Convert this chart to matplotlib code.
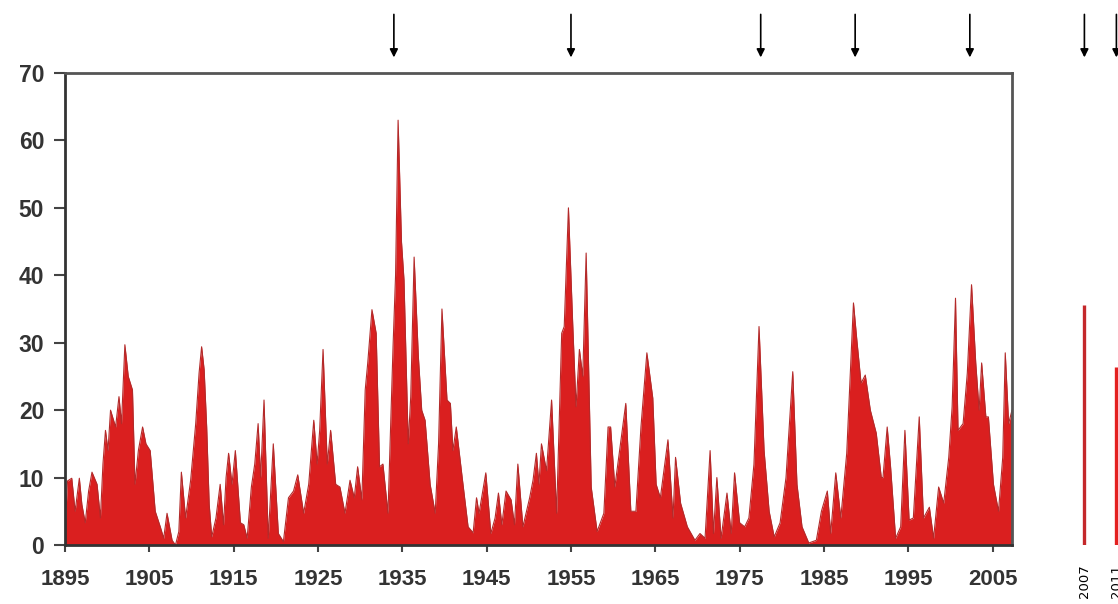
import matplotlib.pyplot as plt

# percent area at the peaks and dips
years = [1895.0, 1895.3, 1895.8, 1896.2, 1896.7, 1897.0, 1897.4, 1897.8, 1898.2, 1898.8,
         1899.2, 1899.5, 1899.8, 1900.1, 1900.4, 1901.0, 1901.4, 1901.7, 1902.1, 1902.5,
         1903.0, 1903.3, 1903.7, 1904.2, 1904.6, 1905.1, 1905.7, 1906.3, 1906.7, 1907.1,
         1907.7, 1908.1, 1908.5, 1908.8, 1909.3, 1909.9, 1910.5, 1910.9, 1911.2, 1911.5,
         1911.8, 1912.1, 1912.4, 1912.9, 1913.4, 1913.8, 1914.1, 1914.4, 1914.8, 1915.2,
         1915.8, 1916.2, 1916.6, 1917.1, 1917.5, 1917.9, 1918.2, 1918.6, 1919.1, 1919.7,
         1920.3, 1920.9, 1921.5, 1922.1, 1922.6, 1923.3, 1923.9, 1924.5, 1924.9, 1925.2,
         1925.6, 1926.1, 1926.5, 1927.1, 1927.6, 1928.2, 1928.8, 1929.3, 1929.7, 1930.2,
         1930.6, 1930.9, 1931.4, 1931.9, 1932.3, 1932.7, 1933.3, 1933.9, 1934.2, 1934.5,
         1934.9, 1935.2, 1935.7, 1936.0, 1936.4, 1936.9, 1937.3, 1937.7, 1938.3, 1938.9,
         1939.3, 1939.7, 1940.3, 1940.7, 1941.0, 1941.4, 1942.1, 1942.8, 1943.4, 1943.8,
         1944.1, 1944.9, 1945.5, 1946.0, 1946.4, 1946.8, 1947.3, 1947.9, 1948.3, 1948.7,
         1949.3, 1950.1, 1950.5, 1950.9, 1951.2, 1951.5, 1952.1, 1952.7, 1953.3, 1953.9,
         1954.2, 1954.7, 1955.2, 1955.6, 1956.0, 1956.4, 1956.8, 1957.4, 1958.1, 1958.9,
         1959.4, 1959.7, 1960.2, 1960.9, 1961.5, 1962.1, 1962.7, 1963.3, 1964.0, 1964.7,
         1965.1, 1965.6, 1966.5, 1967.1, 1967.4, 1968.0, 1968.8, 1969.7, 1970.3, 1970.9,
         1971.5, 1971.9, 1972.3, 1972.8, 1973.5, 1974.0, 1974.4, 1975.0, 1975.6, 1976.1,
         1976.7, 1977.3, 1977.9, 1978.5, 1979.1, 1979.8, 1980.5, 1981.3, 1981.8, 1982.4,
         1983.2, 1984.1, 1984.7, 1985.4, 1985.8, 1986.4, 1987.0, 1987.7, 1988.5, 1988.9,
         1989.4, 1989.9, 1990.5, 1991.2, 1991.8, 1992.0, 1992.5, 1992.9, 1993.5, 1994.1,
         1994.6, 1995.1, 1995.6, 1996.3, 1996.8, 1997.5, 1998.0, 1998.6, 1999.2, 1999.8,
         2000.2, 2000.6, 2000.9, 2001.5, 2002.0, 2002.5, 2003.0, 2003.4, 2003.7, 2004.2,
         2004.5, 2005.1, 2005.7, 2006.2, 2006.5, 2006.9, 2007.3]
pct = [2, 9.5, 9.9, 5, 9.9, 6, 3.3, 8, 10.8, 9,
       4, 12, 17, 14, 20, 17.5, 22, 18, 29.7, 25,
       23, 9, 14, 17.5, 15, 14, 5, 2.7, 1, 4.7,
       0.7, 0, 2, 10.8, 4, 9.6, 18, 25.5, 29.4, 26,
       17.5, 6, 1.2, 4, 9, 3, 10, 13.6, 9, 14,
       3.3, 3, 1, 8.6, 12, 18, 10, 21.5, 1, 15,
       1.7, 0.5, 7, 8, 10.4, 4.7, 9, 18.5, 12, 17,
       29, 12, 17, 9, 8.6, 4.7, 9.6, 7, 11.6, 6.7,
       23, 27, 34.9, 31.4, 11.6, 12, 4.7, 29.4, 40, 63,
       45, 39.3, 15, 22, 42.7, 28, 20, 18.5, 9, 4.7,
       15, 35, 21.5, 21, 14, 17.5, 10, 2.7, 1.8, 7,
       4.7, 10.7, 1.7, 4, 7.7, 3, 8, 6.7, 3, 12,
       2.7, 7, 9.6, 13.6, 9, 15, 11, 21.5, 4.7, 31.4,
       32.4, 50, 33, 20.5, 29, 25, 43.3, 8.6, 2, 4.7,
       17.5, 17.5, 8.6, 15.3, 21, 5, 5, 17.5, 28.5, 21.8,
       9, 7, 15.6, 4, 13, 6.2, 2.7, 0.7, 1.7, 1,
       14, 1.7, 10, 1, 7.7, 1.7, 10.7, 3.3, 2.7, 4,
       12, 32.4, 14, 5, 1.2, 3.3, 10, 25.7, 9, 2.7,
       0.3, 0.7, 5, 8, 1.7, 10.7, 4, 13.6, 35.9, 30.4,
       24, 25.2, 20, 16.6, 10, 10, 17.5, 11.6, 1, 2.7,
       17, 3.7, 4, 19, 4, 5.6, 1, 8.6, 6.2, 13,
       20.5, 36.6, 17, 18, 25.5, 38.6, 27, 20, 27, 19,
       19, 9, 5, 13, 28.5, 18, 20]

arrow_years = [1934, 1955, 1977.5, 1988.7, 2002.3]
xtick_years = list(range(1895, 2006, 10))
yticks = list(range(0, 71, 10))

recent_labels = ['2007', '2011']
recent_pct = [35.6, 26.4]
recent_colors = ['#c4282b', '#e3201f']

plt.rcParams['font.family'] = ['Liberation Sans', 'DejaVu Sans']

fig = plt.figure(figsize=(11.18, 6.04), dpi=100)
ax = fig.add_axes([65 / 1118, 1 - 545 / 604, 947 / 1118, 472 / 604])

ax.fill_between(years, 0, pct, color='#da1f1f', linewidth=0)
ax.plot(years, pct, color='#b32a2a', linewidth=0.8)

ax.set_xlim(1895, 2007.3)
ax.set_ylim(0, 70)
ax.set_xticks(xtick_years)
ax.set_yticks(yticks)
ax.tick_params(axis='y', direction='out', length=8, width=1.5, color='#444444', pad=7,
               labelsize=16.5, labelcolor='#333333')
ax.tick_params(axis='x', direction='out', length=5, width=1.5, color='#444444', pad=12,
               labelsize=16, labelcolor='#333333')
for lab in ax.get_xticklabels() + ax.get_yticklabels():
    lab.set_fontweight('bold')

for side in ['left', 'bottom']:
    ax.spines[side].set_color('#333333')
    ax.spines[side].set_linewidth(2)
for side in ['top', 'right']:
    ax.spines[side].set_color('#555555')
    ax.spines[side].set_linewidth(2)

for yr in arrow_years:
    ax.annotate('', xy=(yr, 71.9), xytext=(yr, 79.1), annotation_clip=False,
                arrowprops=dict(arrowstyle='-|>', color='black', lw=1.2, mutation_scale=12))

# the two recent years, drawn off to the right
ax2 = fig.add_axes([1070 / 1118, 1 - 545 / 604, 48 / 1118, 472 / 604])
ax2.set_xlim(-0.45, 1.05)
ax2.set_ylim(0, 70)
ax2.vlines(range(len(recent_pct)), 0, recent_pct, colors=recent_colors, linewidth=2.4)
ax2.set_xticks(range(len(recent_labels)))
ax2.set_xticklabels(recent_labels, rotation=90, fontsize=9.5, family=['DejaVu Sans'])
ax2.tick_params(axis='x', length=0, pad=14)
ax2.set_yticks([])
for s in ax2.spines.values():
    s.set_visible(False)
ax2.patch.set_alpha(0)
for i in range(len(recent_labels)):
    ax2.annotate('', xy=(i, 71.9), xytext=(i, 79.1), annotation_clip=False,
                 arrowprops=dict(arrowstyle='-|>', color='black', lw=1.2, mutation_scale=12))

fig.savefig('out.png', dpi=100)
